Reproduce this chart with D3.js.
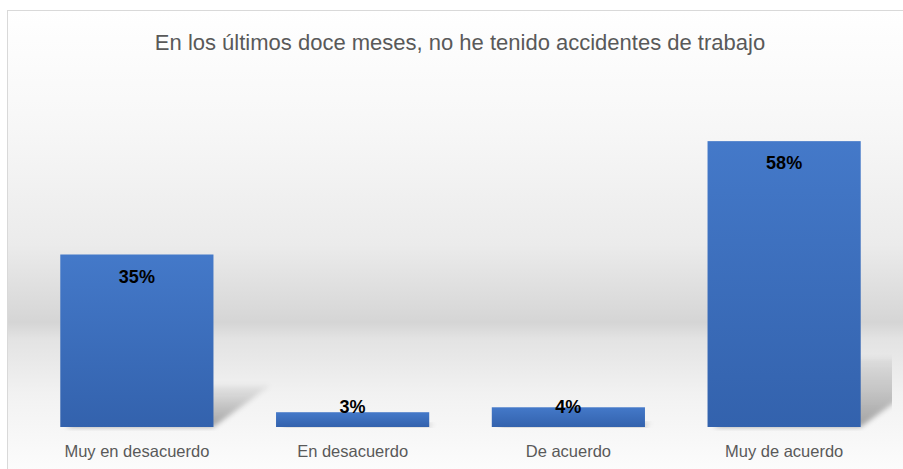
<!DOCTYPE html>
<html lang="es">
  <head>
    <meta charset="utf-8">
    <title>Accidentes de trabajo</title>
    <script src="https://cdnjs.cloudflare.com/ajax/libs/d3/7.8.5/d3.min.js"></script>
    <style>
      body { margin: 0; background: #fff; }
      .chart svg { display: block; }
    </style>
  </head>
  <body>
    <div class="chart"></div>
    <script>
      var title = "En los últimos doce meses, no he tenido accidentes de trabajo";
      var categories = ["Muy en desacuerdo", "En desacuerdo", "De acuerdo", "Muy de acuerdo"];
      var values = [35, 3, 4, 58];
      var yDomain = [0, 70];

      var svgWidth = 903;
      var svgHeight = 469;

      var frame = { left: 7, top: 10, width: 906, height: 470 };
      var plot = { left: 29, right: 892, top: 82, bottom: 427 };

      var svg = d3.select(".chart")
        .append("svg")
        .attr("width", svgWidth)
        .attr("height", svgHeight);

      var defs = svg.append("defs");

      // chart area background: white -> grey band -> white
      var bg = defs.append("linearGradient")
        .attr("id", "bgGrad")
        .attr("gradientUnits", "userSpaceOnUse")
        .attr("x1", 0).attr("x2", 0)
        .attr("y1", frame.top).attr("y2", frame.top + frame.height);
      [[0, "#ffffff"], [0.25, "#f7f7f7"], [0.5, "#ebebeb"], [0.63, "#dadada"],
       [0.665, "#d5d5d5"], [0.70, "#e3e3e3"], [0.82, "#f2f2f2"], [1, "#fdfdfd"]]
        .forEach(function (s) {
          bg.append("stop").attr("offset", s[0]).attr("stop-color", s[1]);
        });

      var barGrad = defs.append("linearGradient")
        .attr("id", "barGrad")
        .attr("x1", 0).attr("x2", 0).attr("y1", 0).attr("y2", 1);
      barGrad.append("stop").attr("offset", 0).attr("stop-color", "#4479c9");
      barGrad.append("stop").attr("offset", 1).attr("stop-color", "#3362ad");

      var shadowGrad = defs.append("linearGradient")
        .attr("id", "shadowGrad")
        .attr("x1", 0).attr("x2", 0).attr("y1", 1).attr("y2", 0);
      shadowGrad.append("stop").attr("offset", 0).attr("stop-color", "#000").attr("stop-opacity", 0.34);
      shadowGrad.append("stop").attr("offset", 1).attr("stop-color", "#000").attr("stop-opacity", 0.05);

      defs.append("filter").attr("id", "blur")
        .attr("x", "-20%").attr("y", "-20%").attr("width", "140%").attr("height", "140%")
        .append("feGaussianBlur").attr("stdDeviation", 2.5);

      defs.append("clipPath").attr("id", "plotClip")
        .append("rect")
        .attr("x", plot.left).attr("y", 0)
        .attr("width", plot.right - plot.left).attr("height", plot.bottom + 4);

      svg.append("rect")
        .attr("x", frame.left + 0.5).attr("y", frame.top + 0.5)
        .attr("width", frame.width).attr("height", frame.height)
        .attr("fill", "url(#bgGrad)")
        .attr("stroke", "#d9d9d9")
        .attr("stroke-width", 1);

      svg.append("text")
        .attr("x", 460)
        .attr("y", 50)
        .attr("text-anchor", "middle")
        .attr("font-family", "Liberation Sans, Arial, sans-serif")
        .attr("font-size", 22)
        .attr("fill", "#595959")
        .text(title);

      var x = d3.scaleBand()
        .domain(categories)
        .range([plot.left, plot.right])
        .paddingInner(0.29)
        .paddingOuter(0.145);

      var y = d3.scaleLinear()
        .domain(yDomain)
        .range([plot.bottom, plot.top]);

      var data = categories.map(function (c, i) { return { cat: c, val: values[i] }; });

      // perspective shadows behind bars
      svg.append("g")
        .attr("clip-path", "url(#plotClip)")
        .selectAll("path")
        .data(data)
        .enter()
        .append("path")
        .attr("d", function (d) {
          var x0 = x(d.cat), x1 = x0 + x.bandwidth();
          var h = y(0) - y(d.val);
          var sh = h * 0.24, dx = h * 0.33;
          return "M" + (x0 + 6) + "," + y(0) + "L" + x1 + "," + y(0) +
            "L" + (x1 + dx) + "," + (y(0) - sh) + "L" + (x0 + 6 + dx) + "," + (y(0) - sh) + "Z";
        })
        .attr("fill", "url(#shadowGrad)")
        .attr("filter", "url(#blur)");

      svg.append("g")
        .selectAll("rect")
        .data(data)
        .enter()
        .append("rect")
        .attr("x", d => x(d.cat))
        .attr("y", d => y(d.val))
        .attr("width", x.bandwidth())
        .attr("height", d => y(0) - y(d.val))
        .attr("fill", "url(#barGrad)");

      // value labels, inside end, kept above the baseline for small bars
      svg.append("g")
        .selectAll("text")
        .data(data)
        .enter()
        .append("text")
        .attr("x", d => x(d.cat) + x.bandwidth() / 2)
        .attr("y", d => Math.min(y(d.val) + 28, y(0) - 14))
        .attr("text-anchor", "middle")
        .attr("font-family", "Liberation Sans, Arial, sans-serif")
        .attr("font-weight", "bold")
        .attr("font-size", 18)
        .attr("fill", "#000")
        .text(d => d.val + "%");

      var xAxis = d3.axisBottom(x).tickSize(0).tickPadding(18);
      var gx = svg.append("g")
        .attr("transform", `translate(0, ${plot.bottom})`)
        .call(xAxis);
      gx.select(".domain").remove();
      gx.selectAll("text")
        .attr("font-family", "Liberation Sans, Arial, sans-serif")
        .attr("font-size", 16.5)
        .attr("fill", "#595959");
    </script>
  </body>
</html>
